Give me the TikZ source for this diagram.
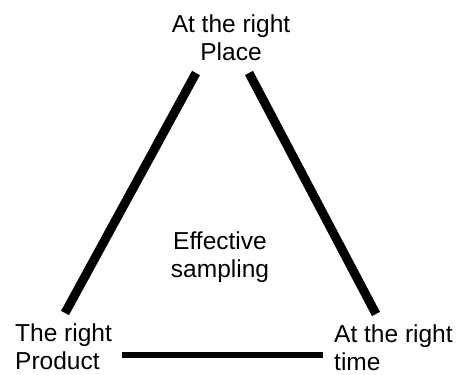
\documentclass[tikz,border=0pt]{standalone}
\usepackage{fontspec}
\setmainfont{Liberation Sans}
\begin{document}
\begin{tikzpicture}[x=1pt,y=-1pt,
  lbl/.style={inner sep=0pt,font=\fontsize{24.5}{28}\selectfont},
  side/.style={line width=9pt,line cap=butt,black},
  basebar/.style={line width=6pt,line cap=butt,black}]
\useasboundingbox (0,0) rectangle (456,375);
\node[lbl,align=center,anchor=base] (place) at (231,60) {At the right\\Place};
\node[lbl,align=left,anchor=base west] (product) at (15,369) {The right\\Product};
\node[lbl,align=left,anchor=base west] (time) at (334,370) {At the right\\time};
\node[lbl,align=center,anchor=base] (eff) at (220,277) {Effective\\sampling};
\coordinate (lt) at (196,73);
\coordinate (lb) at (65,313);
\coordinate (rt) at (249,73);
\coordinate (rb) at (376,314);
\coordinate (bl) at (122,355);
\coordinate (br) at (323,355);
\draw[side] (lt) -- (lb);
\draw[side] (rt) -- (rb);
\draw[basebar] (bl) -- (br);
\end{tikzpicture}
\end{document}
